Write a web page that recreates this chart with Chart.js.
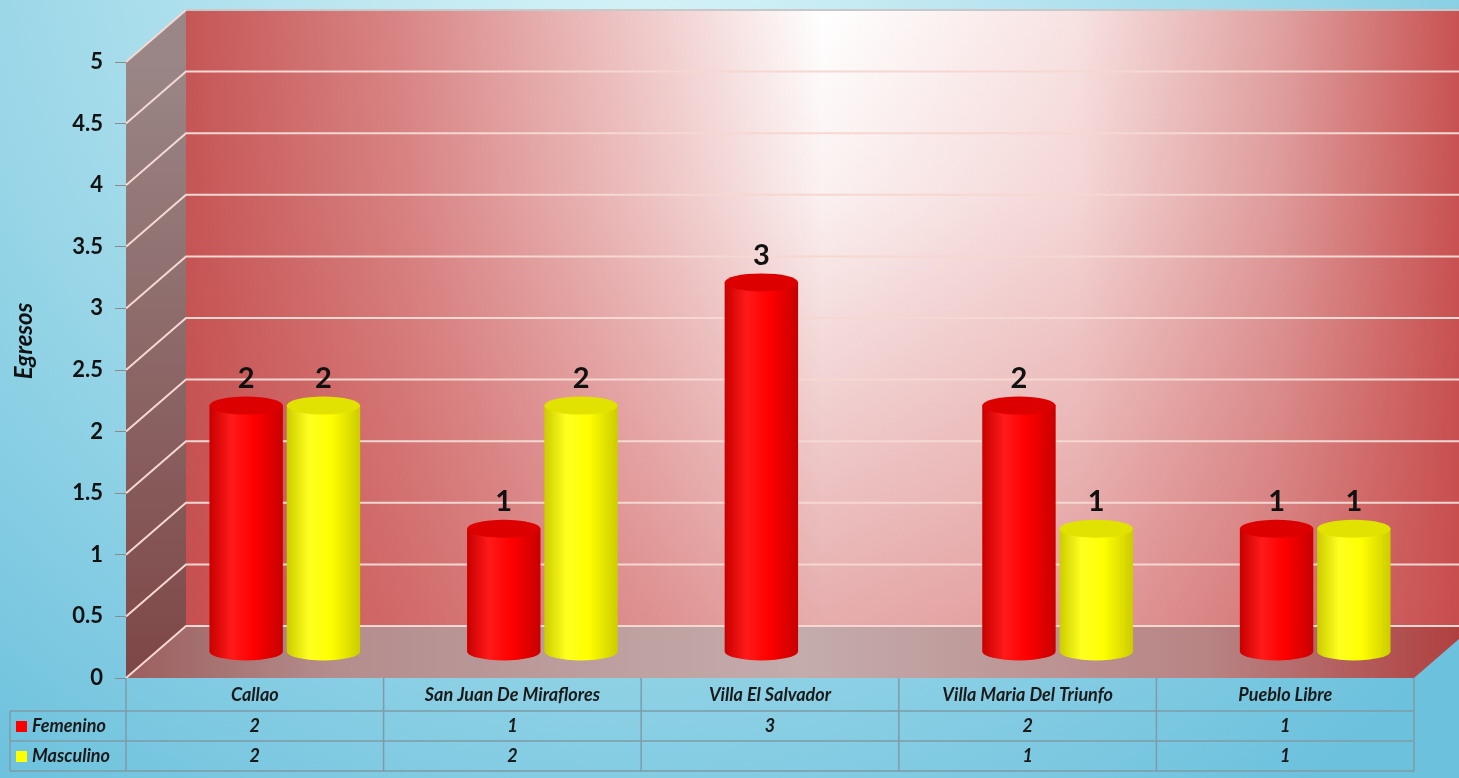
<!DOCTYPE html>
<html>
<head>
<meta charset="utf-8">
<script src="https://cdn.jsdelivr.net/npm/chart.js@4.4.0/dist/chart.umd.min.js"></script>
<style>
  html, body { margin:0; padding:0; overflow:hidden; }
  #wrap { width:1459px; height:778px; }
</style>
</head>
<body>
<div id="wrap"><canvas id="myChart" width="1459" height="778"></canvas></div>
<script>
// data
var categorias = ['Callao', 'San Juan De Miraflores', 'Villa El Salvador', 'Villa Maria Del Triunfo', 'Pueblo Libre'];
var femenino = [2, 1, 3, 2, 1];
var masculino = [2, 2, null, 1, 1];
var series = ['Femenino', 'Masculino'];
var ticksY = [0, 0.5, 1, 1.5, 2, 2.5, 3, 3.5, 4, 4.5, 5];

var DX = 60, DY = -52;   // depth of the 3d box

// background, walls, floor
var fondo = {
  id: 'fondo',
  beforeDraw: function(chart){
    var ctx = chart.ctx, a = chart.chartArea, W = chart.width, H = chart.height;
    ctx.save();
    var g = ctx.createRadialGradient(650, -100, 50, 650, -100, 1100);
    g.addColorStop(0, '#d6f3f8');
    g.addColorStop(0.5, '#a4dbea');
    g.addColorStop(1, '#6cc1dd');
    ctx.fillStyle = g;
    ctx.fillRect(0, 0, W, H);

    // back wall
    var bl = a.left + DX, bt = a.top + DY, bb = a.bottom + DY, br = a.right + DX;
    var hg = ctx.createLinearGradient(bl, 0, W, 0);
    hg.addColorStop(0, '#c65656');
    hg.addColorStop(0.17, '#d98686');
    hg.addColorStop(0.36, '#f0caca');
    hg.addColorStop(0.5, '#ffffff');
    hg.addColorStop(0.7, '#f8e2e2');
    hg.addColorStop(0.86, '#e0a0a0');
    hg.addColorStop(1, '#c85252');
    ctx.fillStyle = hg;
    ctx.fillRect(bl, bt, br - bl, bb - bt);
    var vg = ctx.createLinearGradient(0, bt, 0, bb);
    vg.addColorStop(0, 'rgba(200,70,70,0)');
    vg.addColorStop(0.3, 'rgba(200,70,70,0.08)');
    vg.addColorStop(1, 'rgba(200,70,70,0.45)');
    ctx.fillStyle = vg;
    ctx.fillRect(bl, bt, br - bl, bb - bt);
    ctx.strokeStyle = '#c8c8c8'; ctx.lineWidth = 2;
    ctx.beginPath(); ctx.moveTo(bl, bt); ctx.lineTo(br, bt); ctx.stroke();

    // left wall
    var lg = ctx.createLinearGradient(0, a.top, 0, a.bottom);
    lg.addColorStop(0, '#9a8686');
    lg.addColorStop(1, '#7e4646');
    ctx.fillStyle = lg;
    ctx.beginPath();
    ctx.moveTo(a.left, a.top); ctx.lineTo(bl, bt); ctx.lineTo(bl, bb); ctx.lineTo(a.left, a.bottom);
    ctx.closePath(); ctx.fill();

    // floor
    var fg = ctx.createLinearGradient(a.left, 0, br, 0);
    fg.addColorStop(0, '#9c5e5e');
    fg.addColorStop(0.15, '#b48c8c');
    fg.addColorStop(0.5, '#c4acac');
    fg.addColorStop(0.8, '#b88484');
    fg.addColorStop(1, '#b03c3c');
    ctx.fillStyle = fg;
    ctx.beginPath();
    ctx.moveTo(a.left, a.bottom); ctx.lineTo(bl, bb); ctx.lineTo(br, bb); ctx.lineTo(a.right, a.bottom);
    ctx.closePath(); ctx.fill();

    // grid lines
    var y = chart.scales.y;
    ctx.strokeStyle = '#f6d8d2'; ctx.lineWidth = 2;
    ticksY.forEach(function(t){
      var py = y.getPixelForValue(t);
      ctx.beginPath();
      ctx.moveTo(a.left, py); ctx.lineTo(bl, py + DY);
      if (t < 5) ctx.lineTo(br, py + DY);
      ctx.stroke();
    });

    // axis title
    ctx.translate(24, 341);
    ctx.rotate(-Math.PI / 2);
    ctx.fillStyle = '#111';
    ctx.font = 'italic bold 24px Lato';
    ctx.textAlign = 'center'; ctx.textBaseline = 'middle';
    ctx.fillText('Egresos', 0, 0);
    ctx.restore();
  }
};

function cilindro(ctx, cx, top, bot, w, base, claro, oscuro, tapa){
  var rx = w / 2, ry = 9;
  var g = ctx.createLinearGradient(cx - rx, 0, cx + rx, 0);
  g.addColorStop(0, oscuro);
  g.addColorStop(0.3, claro);
  g.addColorStop(0.6, base);
  g.addColorStop(1, oscuro);
  ctx.fillStyle = g;
  ctx.beginPath();
  ctx.moveTo(cx - rx, top);
  ctx.lineTo(cx - rx, bot);
  ctx.ellipse(cx, bot, rx, ry, 0, Math.PI, 0, true);
  ctx.lineTo(cx + rx, top);
  ctx.closePath();
  ctx.fill();
  ctx.fillStyle = tapa;
  ctx.beginPath();
  ctx.ellipse(cx, top, rx, ry, 0, 0, Math.PI * 2);
  ctx.fill();
}

var colores = [
  { base:'#ff0000', claro:'#ff1a1a', oscuro:'#c80000', tapa:'#dc0000' },
  { base:'#ffff00', claro:'#ffff20', oscuro:'#cccc00', tapa:'#e2e200' }
];

// cylinders + value labels + data table
var cilindros = {
  id: 'cilindros',
  afterDatasetsDraw: function(chart){
    var ctx = chart.ctx;
    ctx.save();
    for (var i = 0; i < categorias.length; i++) {
      for (var d = 0; d < chart.data.datasets.length; d++) {
        var v = chart.data.datasets[d].data[i];
        if (v === null) continue;
        var el = chart.getDatasetMeta(d).data[i];
        var p = el.getProps(['x', 'y', 'base', 'width'], true);
        var cx = p.x + DX / 2, top = p.y + DY / 2, bot = p.base + DY / 2;
        var c = colores[d];
        cilindro(ctx, cx, top, bot, p.width, c.base, c.claro, c.oscuro, c.tapa);
        ctx.fillStyle = '#111';
        ctx.font = 'bold 29px Lato';
        ctx.textAlign = 'center'; ctx.textBaseline = 'middle';
        ctx.fillText(String(v), cx, top - 27);
      }
    }

    // data table
    var a = chart.chartArea, x = chart.scales.x;
    var cw = (a.right - a.left) / categorias.length;
    var r0 = a.bottom, r1 = a.bottom + 33, r2 = r1 + 30, r3 = r2 + 30, izq = 10;
    ctx.strokeStyle = '#7d9ca8'; ctx.lineWidth = 1.5;
    ctx.beginPath();
    ctx.moveTo(a.left, r0); ctx.lineTo(a.left, r3);
    for (var k = 1; k <= categorias.length; k++) {
      ctx.moveTo(a.left + k * cw, r0); ctx.lineTo(a.left + k * cw, r3);
    }
    ctx.moveTo(izq, r1); ctx.lineTo(a.right, r1);
    ctx.moveTo(izq, r2); ctx.lineTo(a.right, r2);
    ctx.moveTo(izq, r3); ctx.lineTo(a.right, r3);
    ctx.moveTo(izq, r1); ctx.lineTo(izq, r3);
    ctx.stroke();

    ctx.fillStyle = '#1a1a1a';
    ctx.font = 'italic bold 18px Lato';
    ctx.textAlign = 'center'; ctx.textBaseline = 'middle';
    categorias.forEach(function(cat, i){
      var px = x.getPixelForValue(i);
      ctx.fillText(cat, px, (r0 + r1) / 2 + 1);
      if (femenino[i] !== null) ctx.fillText(String(femenino[i]), px, (r1 + r2) / 2);
      if (masculino[i] !== null) ctx.fillText(String(masculino[i]), px, (r2 + r3) / 2);
    });
    ctx.textAlign = 'left';
    [[series[0], '#ff0000', r1], [series[1], '#ffff00', r2]].forEach(function(s){
      var my = (s[2] + s[2] + 30) / 2;
      ctx.fillStyle = s[1];
      ctx.fillRect(16, my - 5, 11, 11);
      ctx.fillStyle = '#1a1a1a';
      ctx.fillText(s[0], 32, my);
    });
    ctx.restore();
  }
};

Chart.defaults.font.family = 'Lato';

const data = {
  labels: categorias,
  datasets: [
    { label: series[0], data: femenino, backgroundColor: 'rgba(0,0,0,0)' },
    { label: series[1], data: masculino, backgroundColor: 'rgba(0,0,0,0)' }
  ]
};

const config = {
  type: 'bar',
  data: data,
  options: {
    responsive: false,
    animation: false,
    categoryPercentage: 0.6,
    barPercentage: 0.95,
    layout: { padding: { left: 0, right: 45, top: 62, bottom: 100 } },
    plugins: { legend: { display: false }, tooltip: { enabled: false } },
    scales: {
      x: { display: false },
      y: {
        min: 0, max: 5,
        afterFit: function(s){ s.width = 126; },
        afterBuildTicks: function(s){ s.ticks = ticksY.map(function(t){ return { value: t }; }); },
        ticks: { color: '#111', padding: 12, font: { size: 22, weight: 'bold' },
                 callback: function(v){ return String(v); } },
        grid: { drawOnChartArea: false, tickLength: 11, color: '#8a8a8a' },
        border: { display: false }
      }
    }
  },
  plugins: [fondo, cilindros]
};

const myChart = new Chart(document.getElementById('myChart'), config);
</script>
</body>
</html>
